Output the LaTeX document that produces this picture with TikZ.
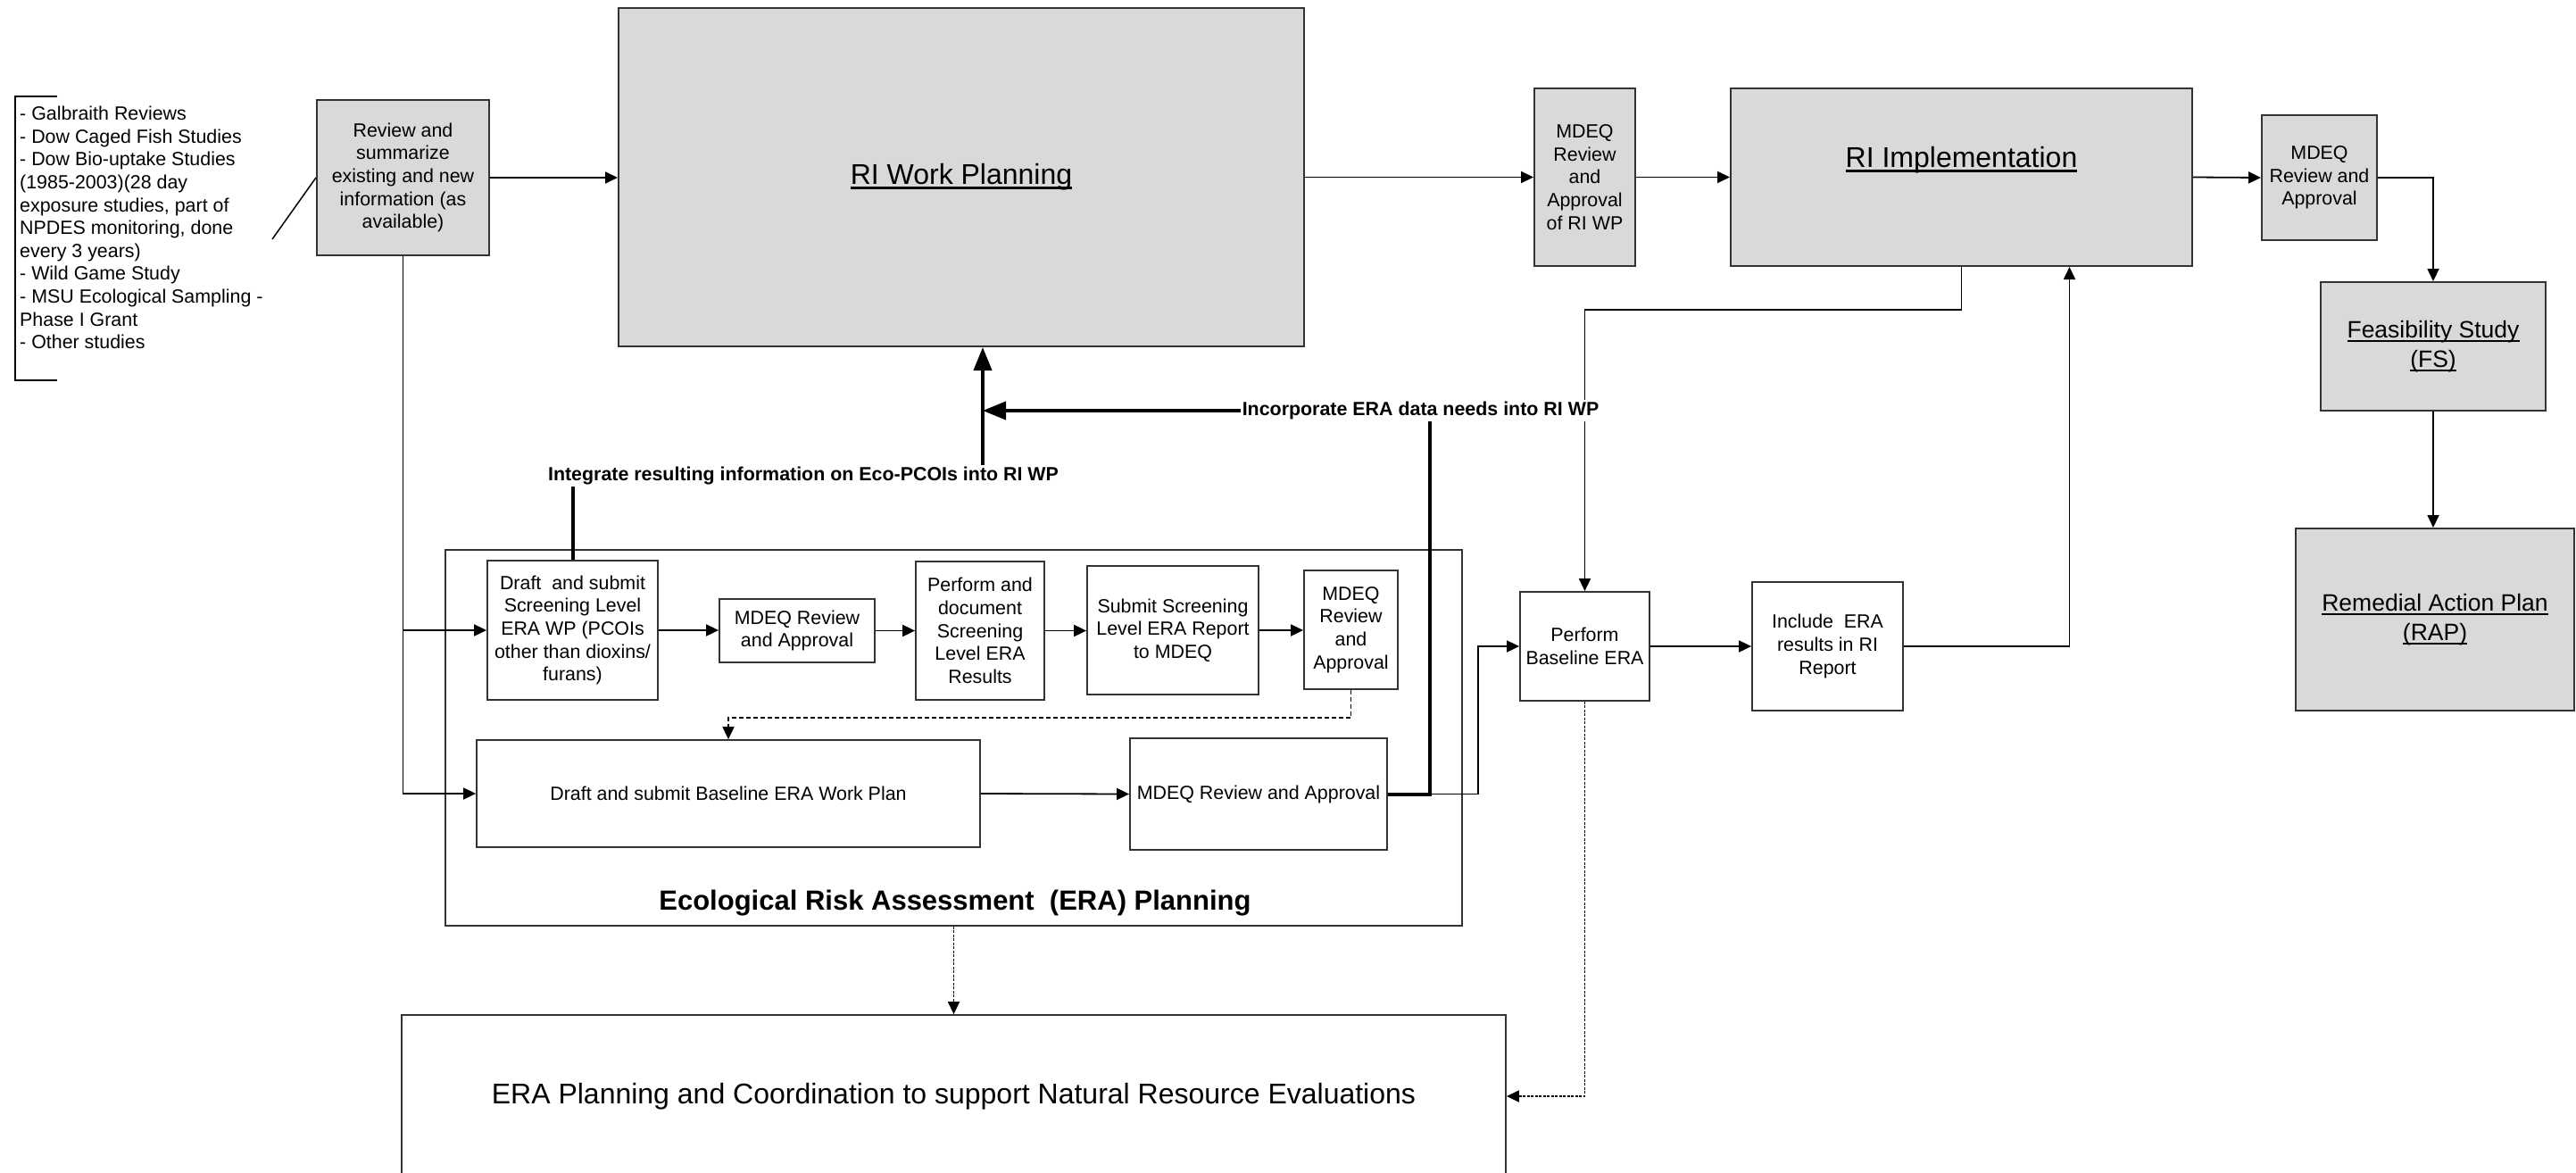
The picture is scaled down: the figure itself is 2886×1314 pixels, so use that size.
\documentclass[tikz,border=0pt]{standalone}
\usepackage{fontspec}
\setmainfont{Liberation Sans}
\usetikzlibrary{arrows.meta, calc, positioning}
\definecolor{boxgray}{HTML}{D9D9D9}
\definecolor{edgegray}{HTML}{333333}
\newsavebox{\hdbox}
\newcommand{\hd}[1]{\sbox{\hdbox}{#1}\rlap{\rule[-4.8pt]{\wd\hdbox}{2.2pt}}\usebox{\hdbox}}

\tikzset{
  txt/.style={font=\fontsize{21.4}{25.6}\selectfont, align=center, inner sep=0pt},
  big/.style={font=\fontsize{32}{38}\selectfont},
  mid/.style={font=\fontsize{26.5}{33}\selectfont},
  graybox/.style={txt, draw=edgegray, fill=boxgray, line width=2pt},
  whitebox/.style={txt, draw=edgegray, fill=white, line width=1.8pt},
  note/.style={font=\bfseries\fontsize{21.4}{25.6}\selectfont, fill=white, inner sep=2pt},
  arr/.style={line width=1.8pt, -{Triangle[length=14pt,width=13pt]}},
  dasharr/.style={arr, dash pattern=on 5pt off 3pt},
  dotarr/.style={arr, line width=1.5pt, dash pattern=on 3pt off 1.5pt},
  heavy/.style={line width=4pt},
  heavyarr/.style={heavy, -{Triangle[length=26pt,width=20pt]}}
}

\begin{document}
\begin{tikzpicture}[x=1pt, y=-1pt]
\useasboundingbox (0,0) rectangle (2886,1314);
\clip (0,0) rectangle (2886,1314);

% sources of existing information
\node[txt, align=left, anchor=north west] (src) at (22,119) {- Galbraith Reviews\\- Dow Caged Fish Studies\\- Dow Bio-uptake Studies\\(1985-2003)(28 day\\exposure studies, part of\\NPDES monitoring, done\\every 3 years)\\- Wild Game Study\\- MSU Ecological Sampling -\\Phase I Grant\\- Other studies};
\draw[line width=1.5pt] (64,108) -- (17,108) -- (17,426) -- (64,426);
\coordinate (srcend) at (305,268);

% top row
\node[graybox, minimum width=193, minimum height=174] (review) at (451.5,199) {Review and\\summarize\\existing and new\\information (as\\available)};
\node[graybox, big, minimum width=768, minimum height=379] (riwp) at (1077,198.5) {\hd{RI Work Planning}};
\node[graybox, minimum width=113, minimum height=199] (mdeqwp) at (1775.5,198.5) {MDEQ\\Review\\and\\Approval\\of RI WP};
\node[graybox, minimum width=517, minimum height=199, label={[big, yshift=19pt]center:\hd{RI Implementation}}] (riimpl) at (2197.5,198.5) {};
\node[graybox, minimum width=129, minimum height=140] (mdeqri) at (2598.5,199) {MDEQ\\Review and\\Approval};
\node[graybox, mid, minimum width=252, minimum height=144] (fs) at (2726,388) {\hd{Feasibility Study}\\\hd{(FS)}};
\node[graybox, mid, minimum width=312, minimum height=204] (rap) at (2728,694) {\hd{Remedial Action Plan}\\\hd{(RAP)}};

% baseline ERA
\node[whitebox, minimum width=145, minimum height=122] (perf) at (1775.5,724) {Perform\\Baseline ERA};
\node[whitebox, minimum width=169, minimum height=144] (incl) at (2047.5,724) {Include~ ERA\\results in RI\\Report};

% ERA planning
\node[draw=edgegray, line width=1.8pt, minimum width=1139, minimum height=421] (era) at (1068.5,826.5) {};
\node[font=\bfseries\fontsize{31}{36}\selectfont] (eratitle) at (1070,1012) {Ecological Risk Assessment\ \ (ERA) Planning};
\node[whitebox, minimum width=191, minimum height=156] (slwp) at (641.5,706) {Draft~ and submit\\Screening Level\\ERA WP (PCOIs\\other than dioxins/\\furans)};
\node[whitebox, minimum width=174, minimum height=71] (slrev) at (893,706.5) {MDEQ Review\\and Approval};
\node[whitebox, minimum width=144, minimum height=155] (slres) at (1098,706.5) {Perform and\\document\\Screening\\Level ERA\\Results};
\node[whitebox, minimum width=192, minimum height=144] (slrep) at (1314,706) {Submit Screening\\Level ERA Report\\to MDEQ};
\node[whitebox, minimum width=105, minimum height=133] (slapp) at (1513.5,705.5) {MDEQ\\Review\\and\\Approval};
\node[whitebox, minimum width=564, minimum height=120] (bwp) at (816,889) {Draft and submit Baseline ERA Work Plan};
\node[whitebox, minimum width=288, minimum height=125] (bapp) at (1410,889.5) {MDEQ Review and Approval};

\node[whitebox, big, minimum width=1237, minimum height=182] (nre) at (1068.5,1228) {ERA Planning and Coordination to support Natural Resource Evaluations};

% connectors
\draw[line width=1.5pt] (srcend) -- (review.west);
\draw[arr] (review.east) -- (riwp.west |- review.east);
\draw[arr] (riwp.east) -- (mdeqwp.west);
\draw[arr] (mdeqwp.east) -- (riimpl.west);
\draw[arr] (riimpl.east) -- (mdeqri.west);
\draw[arr] (mdeqri.east) -| (fs.north);
\draw[arr] (fs.south) -- (fs.south |- rap.north);
\draw[arr] (riimpl.south) -- ++(0,48) -| (perf.north);
\draw[arr] (perf.east) -- (incl.west);
\draw[arr] (incl.east) -| ([xshift=121pt]riimpl.south);
\draw[dotarr] (perf.south) |- (nre.east);
\draw[dotarr] (era.south) -- (nre.north);
\draw[arr] (review.south) |- (bwp.west);
\draw[arr] (review.south |- slwp.west) -- (slwp.west);
\foreach \a/\b in {slwp/slrev, slrev/slres, slres/slrep, slrep/slapp}
  \draw[arr] (\a.east) -- (\a.east -| \b.west);
\draw[dasharr] (slapp.south) -- ++(0,31) -| (bwp.north);
\draw[arr] (bwp.east) -- (bapp.west);
\draw[arr] (bapp.east) -- ++(101,0) |- (perf.west);

% feedback into RI work plan
\node[note] (incorp) at (1591.5,460) {Incorporate ERA data needs into RI WP};
\node[note] (integ) at (900,533) {Integrate resulting information on Eco-PCOIs into RI WP};
\coordinate (riup) at ([xshift=24pt]riwp.south);
\draw[heavy] (bapp.east) -| ([xshift=10.5pt]incorp.south);
\draw[heavyarr] (incorp.west) -- (incorp.west -| riup);
\draw[heavyarr] (integ.north -| riup) -- (riup);
\draw[heavy] (slwp.north) -- (slwp.north |- integ.south);
\end{tikzpicture}
\end{document}
